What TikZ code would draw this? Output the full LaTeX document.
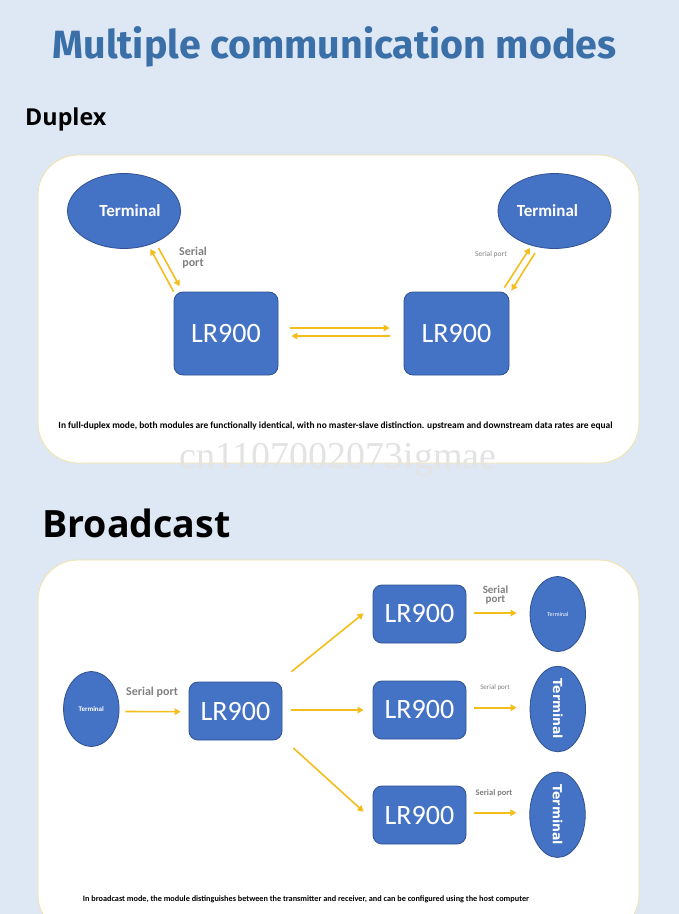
\documentclass[tikz,border=0pt]{standalone}
\usepackage{fontspec}
\setmainfont{Carlito}
\newfontfamily\titlefont{Fira Sans}
\newfontfamily\headfont{Open Sans}
\newfontfamily\wmfont{Liberation Serif}
\newfontfamily\vfont{DejaVu Sans}
\usetikzlibrary{arrows.meta,shapes.geometric}
\definecolor{bg}{HTML}{DEE8F5}
\definecolor{titleblue}{HTML}{3B6FA8}
\definecolor{nodeblue}{HTML}{4472C4}
\definecolor{nodeedge}{HTML}{2F528F}
\definecolor{arrowgold}{HTML}{F3BE1C}
\definecolor{paneledge}{HTML}{F0E2A6}
\definecolor{labelgray}{HTML}{808080}
\tikzset{
  panel/.style={fill=white, draw=paneledge, line width=0.8pt, rounded corners=40pt},
  term/.style={ellipse, fill=nodeblue, draw=nodeedge, line width=0.8pt, inner sep=0pt, text=white},
  bigterm/.style={term, minimum width=113pt, minimum height=75pt, font=\bfseries\fontsize{17}{17}\selectfont},
  smallterm/.style={term, minimum width=55.5pt, minimum height=75pt},
  lrbox/.style={rectangle, rounded corners=9pt, fill=nodeblue, draw=nodeedge, line width=0.8pt, inner sep=0pt, text=white, font=\fontsize{28}{28}\selectfont},
  flow/.style={draw=arrowgold, line width=1.6pt, -{Triangle[length=6pt,width=6.5pt]}},
  lbl/.style={text=labelgray, align=center, inner sep=0pt},
  desc/.style={text=black, inner sep=0pt, font=\bfseries}
}
\begin{document}
\begin{tikzpicture}[x=1pt,y=-1pt]
\fill[bg] (0,0) rectangle (679,914);
\useasboundingbox (0,0) rectangle (679,914);

% titles
\node[text=titleblue, font=\titlefont\bfseries\fontsize{39.4}{39.4}\selectfont, anchor=base] (title) at (334.5,58) {Multiple communication modes};
\node[font=\headfont\bfseries\fontsize{23.3}{23.3}\selectfont, anchor=base west, inner sep=0pt] (duplex) at (25,125) {Duplex};
\node[font=\headfont\bfseries\fontsize{37.6}{37.6}\selectfont, anchor=base west, inner sep=0pt] (bcast) at (42,537) {Broadcast};

% panels
\draw[panel] (38,155) rectangle (639,463);
\begin{scope}
\clip (0,0) rectangle (679,914);
\draw[panel] (38,560) rectangle (639,935);
\end{scope}

% ---------- Duplex ----------
\node[bigterm] (lt) at (124,211) {\hspace*{12pt}Terminal};
\node[bigterm] (rt) at (554.5,211) {Terminal\hspace*{14pt}};
\node[lrbox, minimum width=104pt, minimum height=83pt] (lb) at (226,333.5) {LR900};
\node[lrbox, minimum width=105pt, minimum height=83pt] (rb) at (456.5,333.5) {LR900};

\draw[flow] (lb.north west) -- ([shift={(26.5,38)}]lt.center);
\draw[flow] ([shift={(34.5,37)}]lt.center) -- ([shift={(6,-5.3)}]lb.north west);
\draw[flow] ([shift={(-5,-4)}]rb.north east) -- ([shift={(-24.5,37)}]rt.center);
\draw[flow] ([shift={(-19.5,42)}]rt.center) -- ([shift={(2,-1)}]rb.north east);
\draw[flow] ([shift={(12,-5.5)}]lb.east) -- ([shift={(-14,-5.5)}]rb.west);
\draw[flow] ([shift={(-14,2.5)}]rb.west) -- ([shift={(13,2.5)}]lb.east);

\node[lbl, font=\bfseries\fontsize{12}{11}\selectfont] (sp1) at (193,258) {Serial\\port};
\node[lbl, font=\fontsize{7.5}{7.5}\selectfont] (sp2) at (491,254) {Serial port};

\node[desc, anchor=base] (d1) at (335.5,428.5) {\resizebox{554pt}{!}{In full-duplex mode, both modules are functionally identical, with no master-slave distinction. upstream and downstream data rates are equal}};

% ---------- Broadcast ----------
\node[smallterm, font=\bfseries\fontsize{7}{7}\selectfont] (bt) at (91.3,709) {Terminal};
\node[lrbox, minimum width=93pt, minimum height=58pt] (bc) at (235.5,711) {LR900};
\node[lrbox, minimum width=93pt, minimum height=58pt] (b1) at (419.5,614) {LR900};
\node[lrbox, minimum width=93pt, minimum height=58pt] (b2) at (419.5,710) {LR900};
\node[lrbox, minimum width=93pt, minimum height=58pt] (b3) at (419.5,815) {LR900};
\node[smallterm, font=\fontsize{6}{6}\selectfont] (r1) at (557.8,614) {Terminal};
\node[smallterm, font=\vfont\bfseries\fontsize{12.5}{12.5}\selectfont] (r2) at (557.8,709) {\rotatebox{-90}{Terminal}};
\node[smallterm, font=\vfont\bfseries\fontsize{12.5}{12.5}\selectfont] (r3) at (557.5,814.7) {\rotatebox{-90}{Terminal}};

\draw[flow] ([shift={(6,2.5)}]bt.east) -- ([shift={(-8,0.7)}]bc.west);
\draw[flow] ([shift={(9,-39.3)}]bc.east) -- ([shift={(-9,-0.7)}]b1.west);
\draw[flow] ([shift={(9,-1)}]bc.east) -- ([shift={(-9,0)}]b2.west);
\draw[flow] ([shift={(11,37)}]bc.east) -- ([shift={(-9,-3.3)}]b3.west);
\draw[flow] ([shift={(8,-1)}]b1.east) -- ([shift={(-13,-1)}]r1.west);
\draw[flow] ([shift={(8,-2.3)}]b2.east) -- ([shift={(-13,-1.3)}]r2.west);
\draw[flow] ([shift={(8,-2.3)}]b3.east) -- ([shift={(-13,-2)}]r3.west);

\node[lbl, font=\bfseries\fontsize{12}{12}\selectfont] (sp3) at (152,692) {Serial port};
\node[lbl, font=\bfseries\fontsize{11}{9.5}\selectfont] (sp4) at (495.5,595) {Serial\\port};
\node[lbl, font=\fontsize{7}{7}\selectfont] (sp5) at (495,688) {Serial port};
\node[lbl, font=\bfseries\fontsize{8.5}{8.5}\selectfont] (sp6) at (494,793) {Serial port};

\node[desc, anchor=base] (d2) at (306,901.5) {\resizebox{446pt}{!}{In broadcast mode, the module distinguishes between the transmitter and receiver, and can be configured using the host computer}};

% watermark
\node[font=\wmfont\fontsize{38}{38}\selectfont, text=black!11, anchor=base, inner sep=0pt] (wm) at (338,468) {cn1107002073igmae};
\end{tikzpicture}
\end{document}
